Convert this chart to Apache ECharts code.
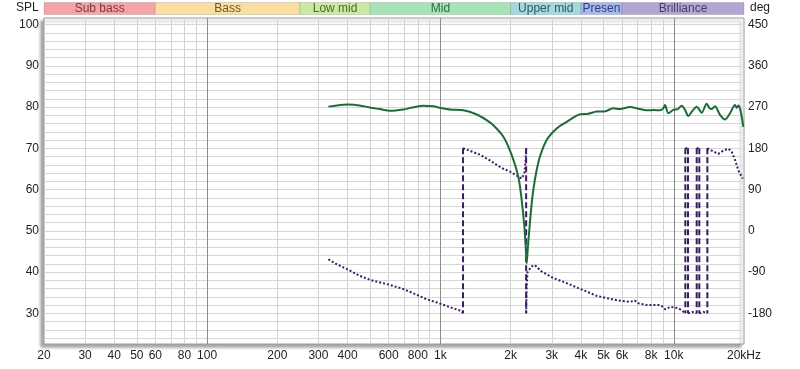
<!DOCTYPE html>
<html><head><meta charset="utf-8">
<script src="https://cdn.jsdelivr.net/npm/echarts@6/dist/echarts.min.js"></script>
<style>html,body{margin:0;padding:0;background:#fff}#c{width:800px;height:369px}</style>
</head><body><div id="c"></div>
<script>
// ---- data ----
const bandNames = ['Sub bass','Bass','Low mid','Mid','Upper mid','Presen','Brilliance'];
const bandEdges = [20,60,250,500,2000,4000,6000,20000];

const xLabelValues = [20,30,40,50,60,80,100,200,300,400,600,800,1000,2000,3000,4000,5000,6000,8000,10000,20000];
const xMinorGrid = [30,40,50,60,70,80,90,200,300,400,500,600,700,800,900,2000,3000,4000,5000,6000,7000,8000,9000];
const xMajorGrid = [100,1000,10000];
const splTickLabels = [30,40,50,60,70,80,90,100];
const phaseTickLabels = [-180,-90,0,90,180,270,360,450];

const splFreq = [331,360,403,450,498,550,608,693,760,845,932,1000,1100,1253,1430,1560,1685,1861,2020,2157,2229,2290,2320,2342,2370,2404,2450,2501,2580,2671,2853,3148,3476,3900,4300,4673,5100,5508,5885,6490,7050,7660,8200,8730,9000,9170,9480,9950,10400,10820,11200,11540,12000,12540,12900,13170,13840,14200,14550,15020,15780,16580,17420,18300,18600,18910,19300,19870];
const splDb   = [80.1,80.4,80.6,80.4,79.9,79.5,79.1,79.4,79.9,80.3,80.2,79.8,79.4,79.2,78.2,77.0,75.6,72.8,68.4,63.1,57.5,51.0,46.0,42.1,46.0,50.2,55.5,59.9,64.5,68.0,72.0,74.8,76.4,78.1,78.4,78.9,79.0,79.7,79.5,80.0,79.6,79.2,79.3,79.2,79.6,80.5,78.5,79.3,79.5,80.3,79.2,77.8,79.0,80.1,79.3,78.6,80.8,79.8,79.5,80.2,78.1,77.0,78.5,80.5,79.8,80.4,79.3,75.2];

// phase (null = break in the trace at a wrap)
const phaseFreq = [331,360,403,450,500,608,693,780,870,950,1050,1150,1233,1250, 1250, 1250,1300,1478,1600,1742,1850,1990,2100,2229,2290,2315,2330, 2330, 2330,2340,2360,2450,2542,2700,3047,3476,3900,4300,4673,5100,5508,6000,6490,6800,7050,7660,8200,8730,9000,9170,9450,9700,10500,10900,11210, 11210, 11210,11350,11510, 11510, 11510,12000,12540, 12540, 12540,12700,12870, 12870, 12870,13400,13930, 13930, 13930,14100,14780,15520,16310,17140,17700,18300,18910,19750];
const phaseDeg  = [-62,-73,-85,-98,-107,-118,-127,-138,-149,-155,-163,-170,-175,-180, null, 180,177,166,156,144,136,129,122,114,125,150,180, null, -180,-125,-91,-78,-75,-88,-103,-114,-125,-134,-142,-146,-150,-153,-155,-152,-158,-162,-162,-162,-166,-171,-168,-166,-169,-175,-180, null, 180,178,180, null, -180,-177,-180, null, 180,178,180, null, -180,-177,-180, null, 180,179,173,168,175,179,173,155,132,114];
const phaseWraps = [1250,2330,11210,11510,12540,12870,13930];

// ---- styles ----
const bandFill = ['#f5a3a6','#f9dea0','#cde8a3','#a6e3b5','#a6d8dc','#a9b8ea','#b4a6d4'];
const bandText = ['#7a3a3a','#6b5a2a','#4a6a2a','#2f6a3d','#2f5a6a','#2f3f7a','#4a3a6a'];
const FONT = '"Liberation Sans", Arial, sans-serif';

const splMin = 22.57, splMax = 101.58;
const degOf = v => (v - 50) * 9;
const ySplit = []; for (let v = 24; v <= 100; v += 2) ySplit.push(v);

const splData = splFreq.map((f, i) => [f, splDb[i]]);
const phaseData = phaseFreq.map((f, i) => phaseDeg[i] === null ? [f, '-'] : [f, phaseDeg[i]]);
const wrapData = [];
phaseWraps.forEach(f => { wrapData.push([f, 180], [f, -180], [f, '-']); });
const bandData = bandNames.map((n, i) => [bandEdges[i], bandEdges[i + 1], 50]);

const fmtX = v => v === 20000 ? '20kHz' : (v >= 1000 ? (v / 1000) + 'k' : String(v));

const chart = echarts.init(document.getElementById('c'), null, {renderer: 'canvas'});
chart.setOption({
  animation: false,
  backgroundColor: '#fff',
  grid: {
    left: 44, right: 56, top: 18, bottom: 25, show: true,
    backgroundColor: '#fff', borderColor: '#9a9a9a', borderWidth: 1,
    shadowBlur: 3, shadowColor: 'rgba(0,0,0,0.35)', shadowOffsetX: -3, shadowOffsetY: 3
  },
  xAxis: [{
    type: 'log', logBase: 10, min: 20, max: 20000,
    axisLine: {show: false},
    axisTick: {show: false, customValues: xMinorGrid},
    splitLine: {show: true, lineStyle: {color: '#d2d2d2', width: 1}},
    axisLabel: {customValues: xLabelValues, formatter: v => fmtX(Math.round(v)), color: '#222', fontSize: 12, fontFamily: FONT, margin: 6}
  }, {
    type: 'log', logBase: 10, min: 20, max: 20000, position: 'bottom',
    axisLine: {show: false},
    axisTick: {show: false, customValues: xMajorGrid},
    axisLabel: {show: false},
    splitLine: {show: true, lineStyle: {color: '#8c8c8c', width: 1}}
  }],
  yAxis: [{
    type: 'value', min: splMin, max: splMax, position: 'left',
    axisLine: {show: false},
    axisTick: {show: false, customValues: ySplit},
    splitLine: {show: true, lineStyle: {color: '#d6d6d6', width: 1}},
    axisLabel: {customValues: splTickLabels, color: '#222', fontSize: 12, fontFamily: FONT, margin: 5}
  }, {
    type: 'value', min: degOf(splMin), max: degOf(splMax), position: 'right',
    axisLine: {show: false}, axisTick: {show: false},
    splitLine: {show: false},
    axisLabel: {customValues: phaseTickLabels, color: '#222', fontSize: 12, fontFamily: FONT, margin: 4}
  }],
  graphic: [
    {type: 'text', left: 16, top: 2, style: {text: 'SPL', fill: '#222', font: '12px ' + FONT}},
    {type: 'text', left: 750, top: 2, style: {text: 'deg', fill: '#222', font: '12px ' + FONT}}
  ],
  series: [{
    type: 'custom', xAxisIndex: 0, yAxisIndex: 0, clip: false, silent: true,
    data: bandData, encode: {x: [0, 1], y: 2},
    renderItem: (params, api) => {
      const i = params.dataIndex;
      const x1 = api.coord([api.value(0), 50])[0];
      const x2 = api.coord([api.value(1), 50])[0];
      return {
        type: 'rect',
        shape: {x: x1, y: 2.5, width: x2 - x1, height: 12},
        style: {fill: bandFill[i], stroke: 'rgba(0,0,0,0.12)', lineWidth: 1},
        textContent: {style: {text: bandNames[i], fill: bandText[i], font: '12px ' + FONT}},
        textConfig: {position: 'inside'}
      };
    }
  }, {
    type: 'line', name: 'Phase wraps', xAxisIndex: 0, yAxisIndex: 1, data: wrapData,
    showSymbol: false, symbol: 'none', connectNulls: false,
    lineStyle: {color: '#3b1c63', width: 2, type: [6, 3]}
  }, {
    type: 'line', name: 'Phase', xAxisIndex: 0, yAxisIndex: 1, data: phaseData,
    showSymbol: false, symbol: 'none', connectNulls: false, smooth: false,
    lineStyle: {color: '#3b1c63', width: 2, type: [2, 2]}
  }, {
    type: 'line', name: 'SPL', xAxisIndex: 0, yAxisIndex: 0, data: splData,
    showSymbol: false, symbol: 'none', smooth: 0.3,
    lineStyle: {color: '#1d6b3a', width: 2}
  }]
});
</script></body></html>
